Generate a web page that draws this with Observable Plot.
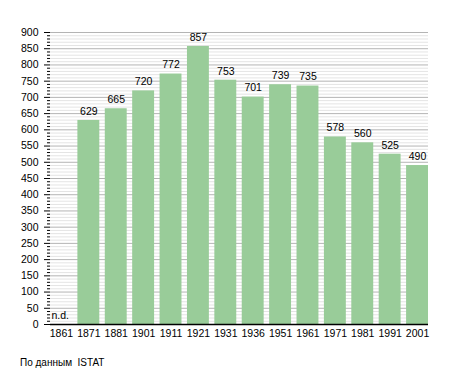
<!DOCTYPE html>
<html><head><meta charset="utf-8">
<script src="https://cdn.jsdelivr.net/npm/d3@7"></script>
<script src="https://cdn.jsdelivr.net/npm/@observablehq/plot@0.6"></script>
<style>
body{margin:0;background:#fff;font-family:"Liberation Sans",Arial,sans-serif;}
#cap{font-size:10px;margin:12px 0 0 20px;color:#000;}
svg{display:block}
</style></head>
<body><div id="chart"></div><div id="cap">По данным&nbsp; ISTAT</div>
<script>
const years = ["1861","1871","1881","1901","1911","1921","1931","1936","1951","1961","1971","1981","1991","2001"];
const population = [null,629,665,720,772,857,753,701,739,735,578,560,525,490];
const majorTicks = d3.range(0, 901, 50);
const minorTicks = d3.range(0, 901, 10).filter(v => v % 50 !== 0);

const data = years.map((y, i) => ({year: y, value: population[i]}));
const valid = data.filter(d => d.value != null);
const missing = data.filter(d => d.value == null);

const chart = Plot.plot({
  width: 455, height: 345,
  marginLeft: 50, marginRight: 27, marginTop: 32, marginBottom: 21,
  style: {fontFamily: '"Liberation Sans", Arial, sans-serif', fontSize: "10px", color: "#000", background: "#fff"},
  x: {domain: years, paddingInner: 0.2, paddingOuter: 0, round: false, label: null},
  y: {domain: [0, 900], label: null},
  marks: [
    Plot.ruleY(minorTicks, {stroke: "#e4e4e4", strokeOpacity: 1}),
    Plot.ruleY(majorTicks, {stroke: "#b4b4b4", strokeOpacity: 1}),
    Plot.barY(valid, {x: "year", y: "value", fill: "#99cc99"}),
    Plot.text(valid, {x: "year", y: "value", text: d => String(d.value), dy: -9, fill: "#000", fontSize: 10.5}),
    Plot.text(missing, {x: "year", y: () => 0, text: () => "n.d.", textAnchor: "start", dx: -10, dy: -9, fill: "#000", fontSize: 10.5}),
    Plot.axisY({ticks: minorTicks, tickSize: 3, text: null, stroke: "#000", strokeOpacity: 1}),
    Plot.axisY({ticks: majorTicks, tickSize: 6, tickPadding: 6, stroke: "#000", strokeOpacity: 1, fill: "#000", fontSize: 10.5}),
    Plot.axisX({tickSize: 0, tickPadding: 5, fill: "#000", fontSize: 10.5}),
    Plot.ruleX([0], {frameAnchor: "left", stroke: "#000", strokeWidth: 1.5}),
    Plot.ruleY([0], {stroke: "#000", strokeWidth: 1.5})
  ]
});
document.getElementById("chart").appendChild(chart);
</script></body></html>
